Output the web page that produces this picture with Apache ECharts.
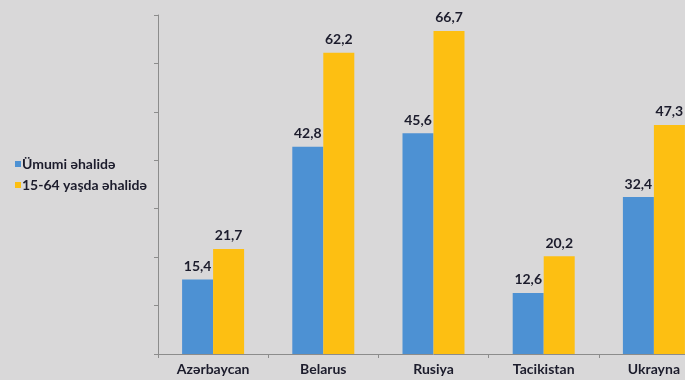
<!DOCTYPE html>
<html><head><meta charset="utf-8">
<script src="https://cdn.jsdelivr.net/npm/echarts@6/dist/echarts.min.js"></script>
<style>html,body{margin:0;padding:0;background:#d9d8d9;overflow:hidden;}#c{width:710px;height:380px;}</style>
</head><body><div id="c"></div>
<script>
var categories = ['Azərbaycan', 'Belarus', 'Rusiya', 'Tacikistan', 'Ukrayna'];
var seriesNames = ['Ümumi əhalidə', '15-64 yaşda əhalidə'];
var totalPop = [15.4, 42.8, 45.6, 12.6, 32.4];
var workingAge = [21.7, 62.2, 66.7, 20.2, 47.3];
var yMin = 0, yMax = 70, yStep = 10;

var FONT = 'Lato, "Liberation Sans", sans-serif';
var labelStyle = {
  show: true, position: 'top', distance: 6,
  fontFamily: FONT, fontWeight: 'bold', fontSize: 14, color: '#1c1c2c',
  formatter: function (p) { return String(p.value).replace('.', ','); }
};
var chart = echarts.init(document.getElementById('c'), null, {renderer: 'canvas'});
chart.setOption({
  backgroundColor: '#d9d8d9',
  animation: false,
  legend: {
    orient: 'vertical', left: 10, top: 152,
    icon: 'rect', itemWidth: 6, itemHeight: 6, itemGap: 7,
    textStyle: {fontFamily: FONT, fontWeight: 'bold', fontSize: 14, color: '#1c1c2c', padding: [0, 0, 0, -4]},
    data: seriesNames
  },
  grid: {left: 158, right: 1, top: 15, bottom: 26},
  xAxis: {
    type: 'category', data: categories,
    axisLine: {lineStyle: {color: '#8c8c8c', width: 1}},
    axisTick: {show: true, length: 4, lineStyle: {color: '#8c8c8c'}},
    axisLabel: {fontFamily: FONT, fontWeight: 'bold', fontSize: 14, color: '#1c1c2c', margin: 8}
  },
  yAxis: {
    type: 'value', min: yMin, max: yMax, interval: yStep,
    axisLine: {show: true, lineStyle: {color: '#8c8c8c', width: 1}},
    axisTick: {show: true, length: 4, lineStyle: {color: '#8c8c8c'}},
    axisLabel: {show: false},
    splitLine: {show: false}
  },
  series: [
    {name: seriesNames[0], type: 'bar', data: totalPop, barWidth: 31, barGap: '0%',
     itemStyle: {color: '#4d91d3'}, label: labelStyle},
    {name: seriesNames[1], type: 'bar', data: workingAge, barWidth: 31, barGap: '0%',
     itemStyle: {color: '#fdbf12'}, label: labelStyle}
  ]
});
</script></body></html>
